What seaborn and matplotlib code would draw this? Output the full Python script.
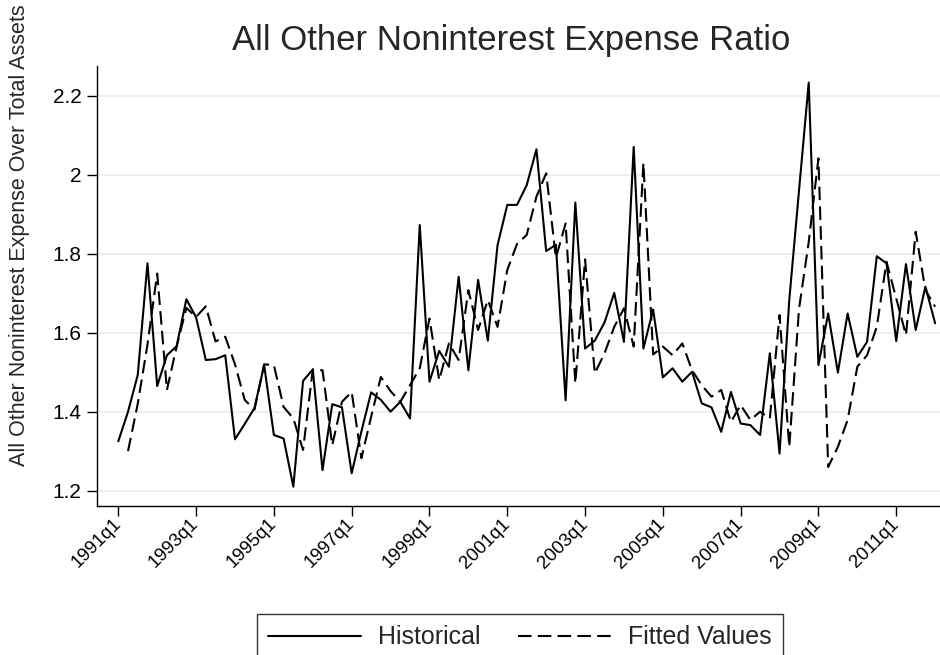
import numpy as np
import pandas as pd
import matplotlib
matplotlib.use("Agg")
import matplotlib.pyplot as plt
import seaborn as sns

# quarterly series, 1991q1 .. 2012q1 (85 quarters)
historical = [
    1.325, 1.400, 1.493, 1.776, 1.465, 1.543, 1.566, 1.685, 1.639, 1.531,
    1.533, 1.543, 1.330, 1.369, 1.409, 1.518, 1.341, 1.332, 1.210, 1.478,
    1.507, 1.252, 1.419, 1.411, 1.244, 1.350, 1.449, 1.430, 1.400, 1.425,
    1.383, 1.873, 1.476, 1.554, 1.514, 1.742, 1.505, 1.734, 1.580, 1.822,
    1.924, 1.924, 1.974, 2.065, 1.807, 1.823, 1.429, 1.930, 1.560, 1.580,
    1.626, 1.701, 1.577, 2.071, 1.560, 1.659, 1.487, 1.510, 1.476, 1.501,
    1.421, 1.411, 1.349, 1.450, 1.370, 1.366, 1.341, 1.548, 1.294, 1.683,
    1.960, 2.234, 1.518, 1.649, 1.499, 1.649, 1.539, 1.577, 1.794, 1.776,
    1.579, 1.774, 1.607, 1.717, 1.624,
]
fitted = [
    np.nan, 1.300, 1.420, 1.570, 1.750, 1.455, 1.565, 1.663, 1.640, 1.667,
    1.578, 1.590, 1.520, 1.430, 1.405, 1.520, 1.518, 1.412, 1.383, 1.303,
    1.507, 1.505, 1.315, 1.425, 1.450, 1.282, 1.387, 1.488, 1.452, 1.425,
    1.467, 1.510, 1.636, 1.480, 1.573, 1.531, 1.708, 1.607, 1.683, 1.615,
    1.759, 1.825, 1.848, 1.945, 2.004, 1.790, 1.877, 1.472, 1.786, 1.497,
    1.548, 1.615, 1.662, 1.565, 2.030, 1.545, 1.565, 1.543, 1.573, 1.505,
    1.467, 1.438, 1.455, 1.374, 1.417, 1.379, 1.400, 1.383, 1.645, 1.311,
    1.660, 1.830, 2.042, 1.260, 1.311, 1.379, 1.514, 1.543, 1.615, 1.780,
    1.687, 1.594, 1.856, 1.708, 1.666,
]

x_ticks = [0, 8, 16, 24, 32, 40, 48, 56, 64, 72, 80]
x_tick_labels = ["1991q1", "1993q1", "1995q1", "1997q1", "1999q1", "2001q1",
                 "2003q1", "2005q1", "2007q1", "2009q1", "2011q1"]
y_ticks = [1.2, 1.4, 1.6, 1.8, 2.0, 2.2]
y_tick_labels = ["1.2", "1.4", "1.6", "1.8", "2", "2.2"]

df = pd.DataFrame({"t": np.arange(len(historical)),
                   "Historical": historical,
                   "Fitted Values": fitted})
long = df.melt(id_vars="t", var_name="series", value_name="ratio").dropna()

sns.set_theme(style="white")
plt.rcParams["font.family"] = ["Liberation Sans", "DejaVu Sans"]

W, H = 940, 655
fig = plt.figure(figsize=(W / 100, H / 100), dpi=100)
ax = fig.add_axes([97 / W, 1 - 506 / H, (W - 97) / W, (506 - 66) / H])

sns.lineplot(data=long, x="t", y="ratio", style="series",
             style_order=["Historical", "Fitted Values"],
             dashes=["", (6.5, 3)], color="black", linewidth=1.5,
             ax=ax, legend="brief")

ax.set_xlim(-2.19, 84.5)
ax.set_ylim(1.161, 2.276)
ax.set_xlabel("")
ax.set_ylabel("")

ax.set_yticks(y_ticks)
ax.set_yticklabels(y_tick_labels, fontsize=15)
ax.set_xticks(x_ticks)
ax.set_xticklabels(x_tick_labels, fontsize=13.5, rotation=45,
                   ha="right", va="center", rotation_mode="anchor")
ax.tick_params(axis="both", direction="out", length=7, width=1,
               color="black", labelcolor="black", left=True, bottom=True)
ax.tick_params(axis="y", pad=4)
ax.tick_params(axis="x", pad=4)

ax.yaxis.grid(True, color="#e8f0f2", linewidth=1.5)
ax.xaxis.grid(False)
for side in ["top", "right"]:
    ax.spines[side].set_visible(False)
for side in ["left", "bottom"]:
    ax.spines[side].set_color("black")
    ax.spines[side].set_linewidth(1)

fig.text(511 / W, 1 - 50 / H, "All Other Noninterest Expense Ratio",
         fontsize=25, ha="center", va="baseline")
fig.text(20 / W, 1 - 4 / H, "All Other Noninterest Expense Over Total Assets",
         fontsize=15.5, rotation=90, ha="center", va="top")

handles, labels = ax.get_legend_handles_labels()
ax.get_legend().remove()
leg = fig.legend(handles, labels, loc="upper left",
                 bbox_to_anchor=(257 / W, 1 - 614 / H), ncol=2,
                 fontsize=18, frameon=True, fancybox=False, shadow=False,
                 borderaxespad=0, borderpad=0.45, handlelength=3.7,
                 handletextpad=0.7, columnspacing=1.5)
leg.get_frame().set_edgecolor("black")
leg.get_frame().set_linewidth(1)
for h in leg.get_lines():
    h.set_linewidth(1.5)

fig.savefig("out.png", dpi=100)
